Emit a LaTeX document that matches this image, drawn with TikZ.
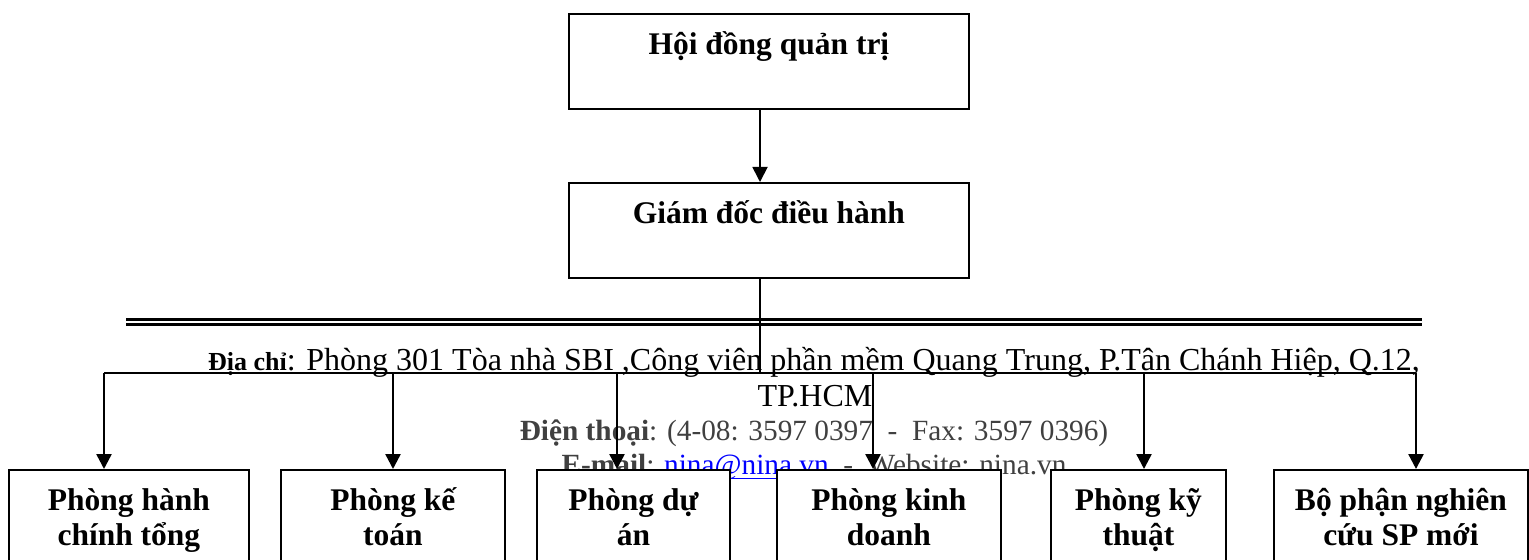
\documentclass[tikz,border=0pt]{standalone}
\usepackage{fontspec}
\setmainfont{Liberation Serif}
\usepackage{tikz}
\usetikzlibrary{arrows.meta, positioning}

\definecolor{footgray}{HTML}{404040}
\definecolor{linkblue}{HTML}{0000FF}

\newcommand{\unitbody}[3]{\parbox[c][#2][t]{#1}{\centering\rule{0pt}{20.5pt}#3}}
\newsavebox{\mailbox}
\newcommand{\mailul}[1]{\textcolor{linkblue}{\sbox\mailbox{#1}\rlap{\rule[-2.5pt]{\wd\mailbox}{0.5pt}}\usebox\mailbox}}

\begin{document}
\begin{tikzpicture}
[x=0.5pt, y=-0.5pt,
BoardNode/.style={rectangle, draw=black, line width=0.9pt, fill=white,
inner sep=0pt, anchor=north west, font=\bfseries\fontsize{15.75}{17.5}\selectfont},
FooterText/.style={anchor=base, inner sep=0pt, font=\fontsize{16}{18}\selectfont},
ContactText/.style={anchor=base, inner sep=0pt, text=footgray,
font=\fontsize{14.65}{17}\selectfont},
DropArrow/.style={-{Triangle[length=7.5pt, width=7.5pt]}, line width=1.25pt},
BusLine/.style={line width=0.7pt}
]

\useasboundingbox (0,0) rectangle (1529,560);

% page header rule and address
\draw[line width=1.15pt] (126,319.5) -- (1422,319.5);
\draw[line width=1.65pt] (126,324.3) -- (1422,324.3);

\node[FooterText] (Address) at (814,371) {{\fontsize{13}{15}\selectfont\bfseries Địa chỉ}: Phòng 301 Tòa nhà SBI ,Công viên phần mềm Quang Trung, P.Tân Chánh Hiệp, Q.12,};
\node[FooterText] (City) at (815,407) {TP.HCM};
\node[ContactText] (Phone) at (814,440) {\textbf{Điện thoại}: (4-08: 3597 0397~~-~~Fax: 3597 0396)};
\node[ContactText] (Mail) at (814,474) {\textbf{E-mail}: \mailul{nina@nina.vn}~~-~~Website: nina.vn};

\node[BoardNode] (Board) at (568,13) {\unitbody{200pt}{47.5pt}{Hội đồng quản trị}};
\node[BoardNode] (Director) at (568,182) {\unitbody{200pt}{47.5pt}{Giám đốc điều hành}};

\node[BoardNode] (Admin) at (8,469) {\unitbody{120pt}{70pt}{Phòng hành\\chính tổng}};
\node[BoardNode] (Account) at (280,469) {\unitbody{112pt}{70pt}{Phòng kế\\toán}};
\node[BoardNode] (Project) at (536,469) {\unitbody{96.5pt}{70pt}{Phòng dự\\án}};
\node[BoardNode] (Sales) at (776,469) {\unitbody{112pt}{70pt}{Phòng kinh\\doanh}};
\node[BoardNode] (Tech) at (1050,469) {\unitbody{87.5pt}{70pt}{Phòng kỹ\\thuật}};
\node[BoardNode] (Research) at (1273,469) {\unitbody{127pt}{70pt}{Bộ phận nghiên\\cứu SP mới}};

\coordinate (hub) at (760,373);
\draw[DropArrow, line width=0.9pt] (Board.south -| hub) -- (Director.north -| hub);
\draw[line width=0.6pt] (Director.south -| hub) -- (hub);

\foreach \unit/\x [count=\i] in {Admin/104, Account/393, Project/617, Sales/873, Tech/1144, Research/1416}
{
  \coordinate (drop\i) at (\x,373);
  \draw[DropArrow] (drop\i) -- (drop\i |- \unit.north);
}
\draw[BusLine] (drop1) -- (drop6);
\end{tikzpicture}
\end{document}
